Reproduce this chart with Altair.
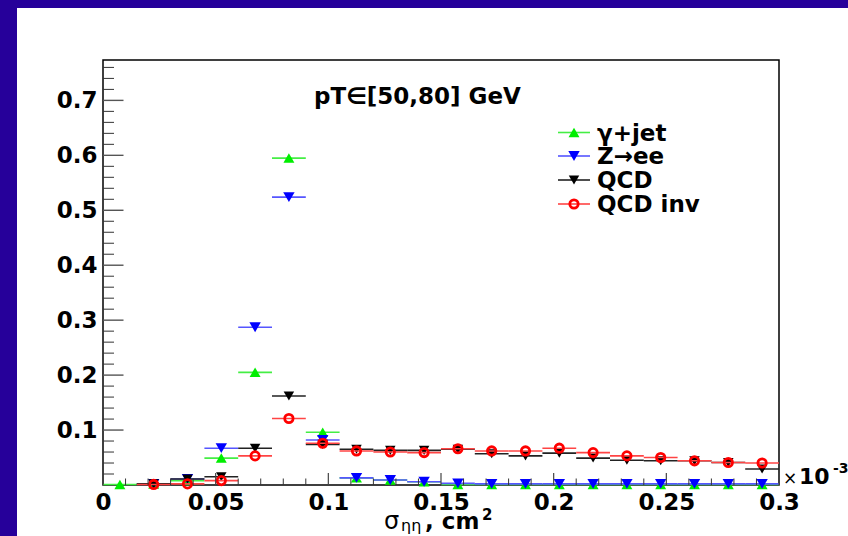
import altair as alt
import pandas as pd

# Histogram bins of sigma_eta_eta (units of 1e-3 cm^2)
bin_centers = [0.0075, 0.0225, 0.0375, 0.0525, 0.0675, 0.0825, 0.0975, 0.1125, 0.1275, 0.1425,
               0.1575, 0.1725, 0.1875, 0.2025, 0.2175, 0.2325, 0.2475, 0.2625, 0.2775, 0.2925]
half_width = 0.0075

# Normalised entries per bin (None = empty bin, not drawn)
gamma_jet = [0.001, 0.002, 0.008, 0.049, 0.205, 0.595, 0.096, 0.013, 0.009, 0.006,
             0.001, 0.001, 0.001, 0.001, 0.001, 0.001, 0.001, 0.001, 0.001, 0.001]
z_ee = [None, 0.002, 0.011, 0.067, 0.287, 0.524, 0.082, 0.013, 0.009, 0.006,
        0.003, 0.002, 0.002, 0.002, 0.002, 0.002, 0.002, 0.002, 0.002, 0.002]
qcd = [None, 0.002, 0.011, 0.015, 0.067, 0.162, 0.074, 0.065, 0.063, 0.063,
       0.065, 0.057, 0.053, 0.058, 0.049, 0.045, 0.044, 0.044, 0.041, 0.029]
qcd_inv = [None, 0.001, 0.002, 0.008, 0.053, 0.121, 0.076, 0.062, 0.060, 0.059,
           0.066, 0.062, 0.062, 0.067, 0.059, 0.053, 0.050, 0.044, 0.041, 0.040]

series_names = ["γ+jet", "Z→ee", "QCD", "QCD inv"]
series_values = [gamma_jet, z_ee, qcd, qcd_inv]

x_label_values = [0, 0.05, 0.1, 0.15, 0.2, 0.25, 0.3]
x_minor_ticks = [0.01, 0.02, 0.03, 0.04, 0.06, 0.07, 0.08, 0.09, 0.11, 0.12, 0.13, 0.14,
                 0.16, 0.17, 0.18, 0.19, 0.21, 0.22, 0.23, 0.24, 0.26, 0.27, 0.28, 0.29]
y_label_values = [0.1, 0.2, 0.3, 0.4, 0.5, 0.6, 0.7]
y_minor_ticks = [0.02, 0.04, 0.06, 0.08, 0.12, 0.14, 0.16, 0.18, 0.22, 0.24, 0.26, 0.28,
                 0.32, 0.34, 0.36, 0.38, 0.42, 0.44, 0.46, 0.48, 0.52, 0.54, 0.56, 0.58,
                 0.62, 0.64, 0.66, 0.68, 0.72, 0.74, 0.76]

# --- styling ---
W, H = 676, 425
PAD_L, PAD_T = 103, 60
FONT = "DejaVu Sans"
PURPLE = "#26009a"
styles = {
    "γ+jet":   dict(color="#00ee00", bar="#44ee44", shape="triangle-up", size=120, filled=True),
    "Z→ee":    dict(color="#0000ff", bar="#5555ff", shape="triangle-down", size=130, filled=True),
    "QCD":     dict(color="#000000", bar="#222222", shape="triangle-down", size=110, filled=True),
    "QCD inv": dict(color="#ff0000", bar="#ff4444", shape="circle", size=70, filled=False),
}

rows = []
for name, vals in zip(series_names, series_values):
    for xc, v in zip(bin_centers, vals):
        if v is not None:
            rows.append({"series": name, "x": xc, "v": v})
df = pd.DataFrame(rows)

xscale = alt.Scale(domain=[0, 0.3], nice=False, zero=False)
yscale = alt.Scale(domain=[0, 0.7735], nice=False, zero=False)
xaxis = alt.Axis(values=x_label_values, format="~g", ticks=False, tickSize=0, domain=False,
                 grid=False, labelFont=FONT, labelFontSize=23, labelFontWeight="bold",
                 labelColor="black", labelPadding=6, labelFlush=False, labelOverlap=False,
                 title=None)
yaxis = alt.Axis(values=y_label_values, format="~g", ticks=False, tickSize=0, domain=False,
                 grid=False, labelFont=FONT, labelFontSize=23, labelFontWeight="bold",
                 labelColor="black", labelPadding=6, labelFlush=False, labelOverlap=False,
                 title=None)

base = alt.Chart(df)
layers = []

# page border bands
band = alt.Chart(pd.DataFrame({"k": [0]}))
layers.append(band.mark_rect(color=PURPLE).encode(
    x=alt.value(-PAD_L), x2=alt.value(848 - PAD_L), y=alt.value(-PAD_T), y2=alt.value(-PAD_T + 8)))
layers.append(band.mark_rect(color=PURPLE).encode(
    x=alt.value(-PAD_L), x2=alt.value(-PAD_L + 17), y=alt.value(-PAD_T), y2=alt.value(536 - PAD_T)))

# data: horizontal bin-width bars then markers, series by series
for name in series_names:
    st = styles[name]
    sub = base.transform_filter(alt.datum.series == name).transform_calculate(
        lo=f"datum.x - {half_width}", hi=f"datum.x + {half_width}")
    layers.append(sub.mark_rule(color=st["bar"], strokeWidth=1.6).encode(
        x=alt.X("lo:Q", scale=xscale, axis=xaxis),
        x2="hi:Q",
        y=alt.Y("v:Q", scale=yscale, axis=yaxis)))
    if st["filled"]:
        pt = sub.mark_point(shape=st["shape"], size=st["size"], filled=True,
                            color=st["color"], opacity=1)
    else:
        pt = sub.mark_point(shape=st["shape"], size=st["size"], filled=False,
                            color=st["color"], strokeWidth=2.8, opacity=1)
    layers.append(pt.encode(x=alt.X("x:Q", scale=xscale, axis=xaxis),
                            y=alt.Y("v:Q", scale=yscale, axis=yaxis)))

# inward ticks on the x axis
xt_major = alt.Chart(pd.DataFrame({"t": x_label_values}))
xt_minor = alt.Chart(pd.DataFrame({"t": x_minor_ticks}))
layers.append(xt_major.mark_rule(color="#444", strokeWidth=1.2).encode(
    x=alt.X("t:Q", scale=xscale, axis=xaxis), y=alt.value(H), y2=alt.value(H - 12)))
layers.append(xt_minor.mark_rule(color="#333", strokeWidth=1).encode(
    x=alt.X("t:Q", scale=xscale, axis=xaxis), y=alt.value(H), y2=alt.value(H - 6.5)))

# inward ticks on the y axis
yt_major = alt.Chart(pd.DataFrame({"t": y_label_values}))
yt_minor = alt.Chart(pd.DataFrame({"t": y_minor_ticks}))
layers.append(yt_major.mark_rule(color="#555", strokeWidth=1.4).encode(
    y=alt.Y("t:Q", scale=yscale, axis=yaxis), x=alt.value(0), x2=alt.value(20.5)))
layers.append(yt_minor.mark_rule(color="#333", strokeWidth=1).encode(
    y=alt.Y("t:Q", scale=yscale, axis=yaxis), x=alt.value(0), x2=alt.value(11)))

# legend
one = alt.Chart(pd.DataFrame({"k": [0]}))
legend_rows = [72.5, 96, 120, 144]
for name, ly in zip(series_names, legend_rows):
    st = styles[name]
    layers.append(one.mark_rule(color=st["bar"], strokeWidth=1.6).encode(
        x=alt.value(455), x2=alt.value(487), y=alt.value(ly)))
    if st["filled"]:
        pt = one.mark_point(shape=st["shape"], size=st["size"], filled=True, color=st["color"], opacity=1)
    else:
        pt = one.mark_point(shape=st["shape"], size=st["size"], filled=False, color=st["color"],
                            strokeWidth=2.8, opacity=1)
    layers.append(pt.encode(x=alt.value(471), y=alt.value(ly)))
    layers.append(one.mark_text(text=name, align="left", baseline="middle", font=FONT,
                                fontSize=23, fontWeight="bold", color="black").encode(
        x=alt.value(494), y=alt.value(ly + 1)))

# annotation texts
def label(text, x, y, size, weight="bold", baseline="alphabetic"):
    return one.mark_text(text=text, align="left", baseline=baseline, font=FONT,
                         fontSize=size, fontWeight=weight, color="black").encode(
        x=alt.value(x), y=alt.value(y))

layers.append(label("pT∈[50,80] GeV", 211, 37, 23, baseline="middle"))
# x axis title: sigma_{eta eta}, cm^2
layers.append(label("σ", 281, 469, 24, weight="normal"))
layers.append(label("ηη", 298, 471, 16, weight="normal"))
layers.append(label(", cm", 322, 469, 23))
layers.append(label("2", 379, 460, 15))
# axis multiplier x10^-3
layers.append(label("×", 680, 424, 17, weight="normal"))
layers.append(label("10", 696, 424, 22))
layers.append(label("-3", 730, 413, 14))

chart = alt.layer(*layers).properties(
    width=W, height=H,
    autosize=alt.AutoSizeParams(type="none"),
    padding={"left": PAD_L, "top": PAD_T, "right": 848 - PAD_L - W, "bottom": 536 - PAD_T - H},
    background="white",
).configure_view(stroke="black", strokeWidth=1.5, fill="white")

chart.save("out.html", embed_options={"renderer": "svg", "actions": False})
